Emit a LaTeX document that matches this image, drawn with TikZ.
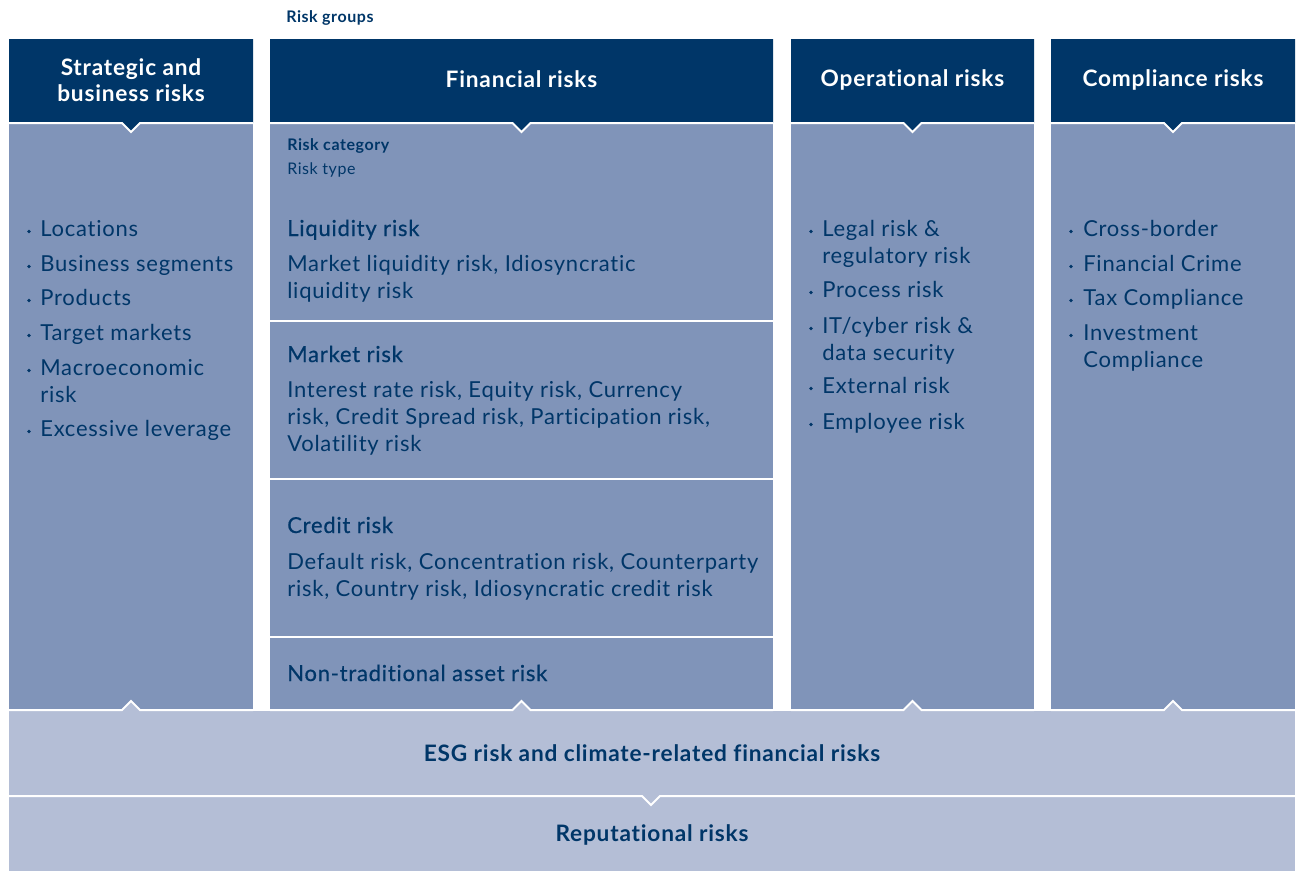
\documentclass[tikz,border=0pt]{standalone}
\usepackage{fontspec}
\setmainfont{Lato}[LetterSpace=3.5, Ligatures=NoCommon]
\newfontfamily\medfont{Lato}[FakeBold=0.6, LetterSpace=3.5, Ligatures=NoCommon]
\usetikzlibrary{positioning}
\definecolor{headcol}{RGB}{0,54,104}
\definecolor{panelcol}{RGB}{128,148,185}
\definecolor{bandcol}{RGB}{180,190,214}
\definecolor{inkcol}{RGB}{0,54,104}
% lines stacked from the first baseline down
\newcommand\stack[1]{\begin{tabular}[t]{@{}l@{}}#1\end{tabular}}

\begin{document}
\begin{tikzpicture}[x=0.75pt, y=-0.75pt,
  sep/.style={draw=white, line width=1.5pt},
  hdtext/.style={text=white, font=\fontsize{17}{19.5}\selectfont\bfseries, align=center, inner sep=0pt},
  smalllbl/.style={text=inkcol, font=\fontsize{12}{14}\selectfont\bfseries, anchor=base west, inner sep=0pt},
  item/.style={text=inkcol, font=\fontsize{16.5}{20.25}\selectfont, anchor=base west, inner sep=0pt},
  cathead/.style={text=inkcol, font=\fontsize{16.5}{20.25}\medfont, anchor=base west, inner sep=0pt},
  bandtext/.style={text=inkcol, font=\fontsize{17}{20}\selectfont\bfseries, inner sep=0pt},
]
\useasboundingbox (0,0) rectangle (1298,871);

% ---------- bottom bands ----------
\fill[bandcol] (9,711) rectangle (1295,871);
\draw[sep] (9,796) -- (642,796) -- (651,805) -- (660,796) -- (1295,796);

% ---------- the four risk group columns ----------
\foreach \nm/\xa/\xb in {strat/9/253, fin/270/773, oper/791/1034, comp/1051/1295}{
  \pgfmathsetmacro\xc{(\xa+\xb)/2}
  \fill[panelcol] (\xa,123) rectangle (\xb,710);
  \fill[headcol] (\xa,39) -- (\xb,39) -- (\xb,123) -- (\xc+9,123) -- (\xc,132)
    -- (\xc-9,123) -- (\xa,123) -- cycle;
  \draw[sep] (\xa,123) -- (\xc-9,123) -- (\xc,132) -- (\xc+9,123) -- (\xb,123);
  % tab of the ESG band reaching up into the column
  \fill[bandcol] (\xc-9,711) -- (\xc,702) -- (\xc+9,711) -- cycle;
  \draw[sep] (\xa,710) -- (\xc-9,710) -- (\xc,701) -- (\xc+9,710) -- (\xb,710);
}

% financial risk categories
\foreach \yy in {321,479,637}
  \draw[sep] (270,\yy) -- (773,\yy);

% ---------- headers ----------
\node[smalllbl] (groups) at (286,22) {Risk groups};
\node[hdtext] (hdstrat) at (131,80) {Strategic and\\business risks};
\node[hdtext] (hdfin) at (521.5,79.5) {Financial risks};
\node[hdtext] (hdoper) at (912.5,79.5) {Operational risks};
\node[hdtext] (hdcomp) at (1173,79.5) {Compliance risks};

% ---------- strategic and business ----------
\foreach \yy/\txt [count=\i] in {236/Locations, 271/Business segments, 305/Products,
    340/Target markets, 375/{Macroeconomic\\risk}, 436/Excessive leverage}{
  \node[item] (strat\i) at (40,\yy) {\stack{\txt}};
  \fill[inkcol] (29,\yy-4.5) circle (1.4pt);
}

% ---------- financial ----------
\node[smalllbl] (cat) at (287,150) {Risk category};
\node[smalllbl, font=\fontsize{12}{14}\selectfont] (type) at (287,174) {Risk type};

\node[cathead] (liqhd) at (287,236) {Liquidity risk};
\node[item] (liqtp) at (287,271) {\stack{Market liquidity risk, Idiosyncratic\\liquidity risk}};
\node[cathead] (mkthd) at (287,362) {Market risk};
\node[item] (mkttp) at (287,397) {\stack{Interest rate risk, Equity risk, Currency\\risk, Credit Spread risk, Participation risk,\\Volatility risk}};
\node[cathead] (crdhd) at (287,533) {Credit risk};
\node[item] (crdtp) at (287,569) {\stack{Default risk, Concentration risk, Counterparty\\risk, Country risk, Idiosyncratic credit risk}};
\node[cathead] (ntahd) at (287,681) {Non-traditional asset risk};

% ---------- operational ----------
\foreach \yy/\txt [count=\i] in {236/{Legal risk \&\\regulatory risk}, 297/Process risk,
    333/{IT/cyber risk \&\\data security}, 393/External risk, 429/Employee risk}{
  \node[item] (oper\i) at (822,\yy) {\stack{\txt}};
  \fill[inkcol] (811,\yy-4.5) circle (1.4pt);
}

% ---------- compliance ----------
\foreach \yy/\txt [count=\i] in {236/Cross-border, 271/Financial Crime, 305/Tax Compliance,
    340/{Investment\\Compliance}}{
  \node[item] (comp\i) at (1083,\yy) {\stack{\txt}};
  \fill[inkcol] (1071,\yy-4.5) circle (1.4pt);
}

% ---------- cross-cutting risks ----------
\node[bandtext] (esg) at (652,753) {ESG risk and climate-related financial risks};
\node[bandtext] (rep) at (652,835) {Reputational risks};

\end{tikzpicture}
\end{document}
